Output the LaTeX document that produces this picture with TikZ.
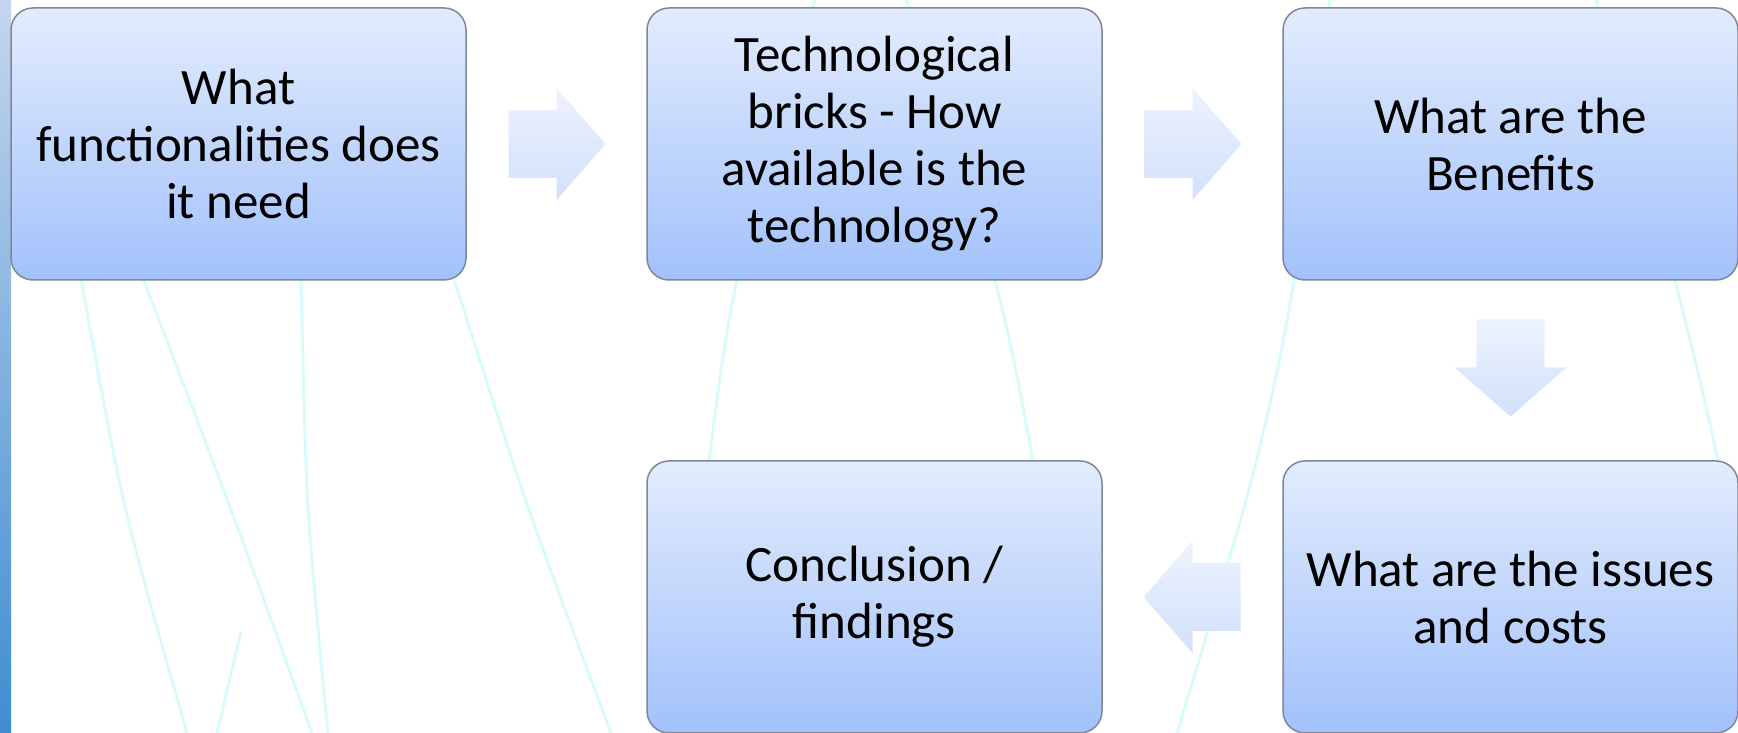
\documentclass[tikz,border=0pt]{standalone}
\usepackage{fontspec}
\setmainfont{Carlito}
\usetikzlibrary{calc}

\definecolor{boxtop}{HTML}{E2ECFD}
\definecolor{boxbottom}{HTML}{A2C1FB}
\definecolor{boxline}{HTML}{7D8798}
\definecolor{arrowtop}{HTML}{EDF2FD}
\definecolor{arrowbottom}{HTML}{D2E0FB}
\definecolor{paleaqua}{HTML}{DAFBFC}
\definecolor{striptop}{HTML}{C6D5EE}
\definecolor{stripbottom}{HTML}{3E8DD1}

\begin{document}
\begin{tikzpicture}[x=1pt,y=1pt,node distance=636pt]
\tikzstyle{block}=[draw=boxline,line width=1.5pt,rounded corners=22pt,top color=boxtop,bottom color=boxbottom,minimum width=455pt,minimum height=272pt,inner sep=0pt,align=center,font=\fontsize{51}{57}\selectfont]
\tikzstyle{wave}=[paleaqua,line width=3pt]
\tikzstyle{flow}=[top color=arrowtop,bottom color=arrowbottom]

\useasboundingbox (0,0) rectangle (1738,733);

% background strip and lines
\shade[top color=striptop,bottom color=stripbottom] (0,0) rectangle (11,733);
\draw[wave] plot[smooth] coordinates {(80,460) (125,226) (187,0)};
\draw[wave] plot[smooth] coordinates {(141,460) (230,226) (312,0)};
\draw[wave] plot[smooth] coordinates {(301,460) (308,226) (328,0)};
\draw[wave] plot[smooth] coordinates {(452,460) (528,226) (611,0)};
\draw[wave] (241,101) -- (217,0);
\draw[wave] plot[smooth] coordinates {(815,733) (737,452) (709,272) (703,213)};
\draw[wave] plot[smooth] coordinates {(906,733) (995,452) (1033,272) (1040,213)};
\draw[wave] plot[smooth] coordinates {(1330,733) (1294,452) (1252,255) (1177,0)};
\draw[wave] plot[smooth] coordinates {(1596,733) (1675,452) (1718,272) (1724,213)};

\node[block]    (A) at (238.5,589) {What\\functionalities does\\it need};
\node[block]    (B) [right of=A] {Technological\\bricks - How\\available is the\\technology?};
\node[block]    (C) [right of=B] {What are the\\Benefits};
\node[block]    (E) [below of=C,node distance=453pt] {What are the issues\\and costs};
\node[block]    (D) [left of=E] {Conclusion /\\findings};

% block arrows between the steps
\coordinate (ab) at ($(A.east)!0.5!(B.west)$);
\coordinate (bc) at ($(B.east)!0.5!(C.west)$);
\coordinate (ce) at ($(C.south)!0.5!(E.north)+(0,3)$);
\coordinate (ed) at ($(E.west)!0.5!(D.east)$);

\shade[flow] ([shift={(-48,-34)}]ab) -- ++(48,0) -- ++(0,-22) -- ++(49,56) -- ++(-49,56) -- ++(0,-22) -- ++(-48,0) -- cycle;
\shade[flow] ([shift={(-48,-34)}]bc) -- ++(48,0) -- ++(0,-22) -- ++(49,56) -- ++(-49,56) -- ++(0,-22) -- ++(-48,0) -- cycle;
\shade[flow] ([shift={(-34,48)}]ce) -- ++(0,-48) -- ++(-22,0) -- ++(56,-49) -- ++(56,49) -- ++(-22,0) -- ++(0,48) -- cycle;
\shade[flow] ([shift={(48,-34)}]ed) -- ++(-48,0) -- ++(0,-22) -- ++(-49,56) -- ++(49,56) -- ++(0,-22) -- ++(48,0) -- cycle;
\end{tikzpicture}
\end{document}
